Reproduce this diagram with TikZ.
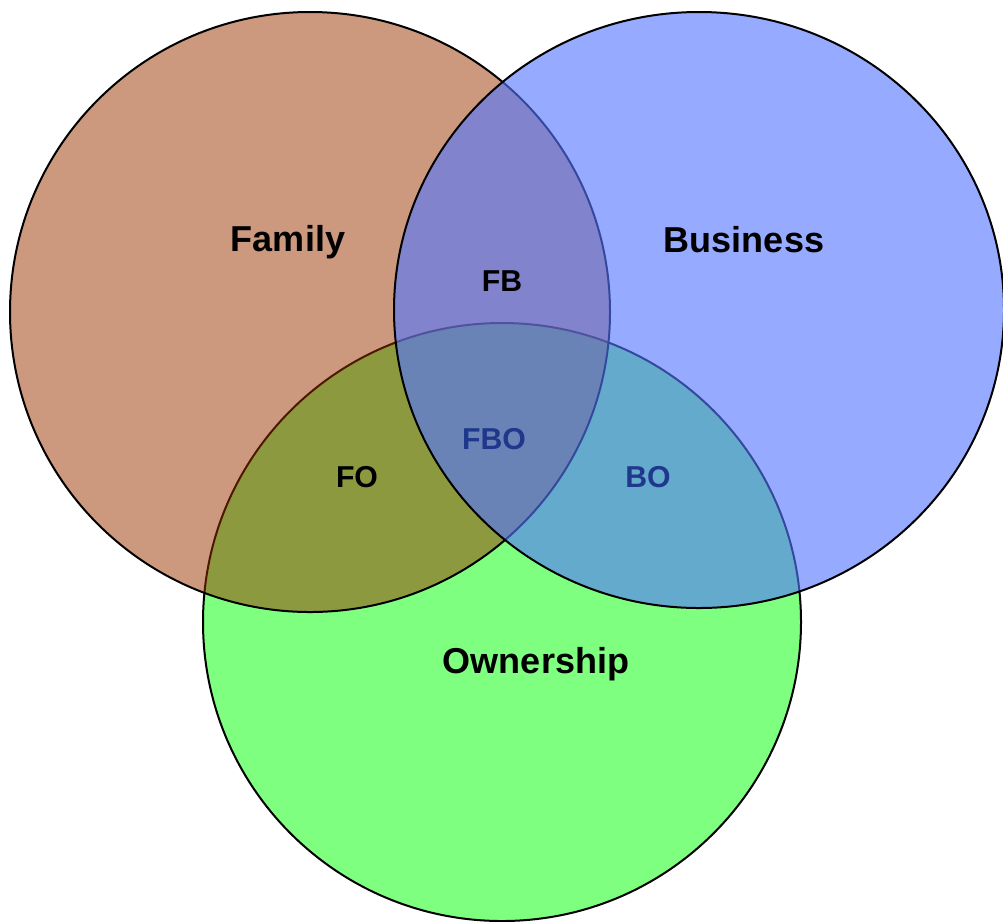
\documentclass[tikz,border=0pt]{standalone}
\usepackage{fontspec}
\setmainfont{Liberation Sans}
\usepackage{tikz}
\definecolor{famcol}{RGB}{153,51,0}
\definecolor{buscol}{RGB}{85,118,255}
\definecolor{owncol}{RGB}{0,255,0}
\definecolor{lblblue}{RGB}{32,56,140}
\tikzset{
	setcircle/.style={line width=0.04cm, draw=black},
	biglabel/.style={font=\fontsize{20.5pt}{24pt}\selectfont\bfseries},
	smalllabel/.style={font=\fontsize{17.2pt}{20pt}\selectfont\bfseries}
}

\begin{document}
\begin{tikzpicture}[x=0.02cm, y=-0.02cm]
			%%%%% START %%%%%
			
			\useasboundingbox (0, 0) rectangle (1003, 921);
			
			\draw[setcircle, fill=owncol, fill opacity=0.5] (502, 622) circle (299);
			\draw[setcircle, fill=famcol, fill opacity=0.5] (310, 312) circle (300);
			\draw[setcircle, fill=buscol, fill opacity=0.62] (699, 310) ellipse (305 and 298);
			
			\node[biglabel] (family) at (288, 242) {Family};
			\node[biglabel] (business) at (744, 240) {Business};
			\node[biglabel] (ownership) at (536, 664) {Ownership};
			
			\node[smalllabel] (fb) at (502, 281) {FB};
			\node[smalllabel] (fo) at (357, 477) {FO};
			\node[smalllabel, color=lblblue] (bo) at (648, 477) {BO};
			\node[smalllabel, color=lblblue] (fbo) at (494, 439) {FBO};
			
			%%%%% END %%%%%
		\end{tikzpicture}
\end{document}
